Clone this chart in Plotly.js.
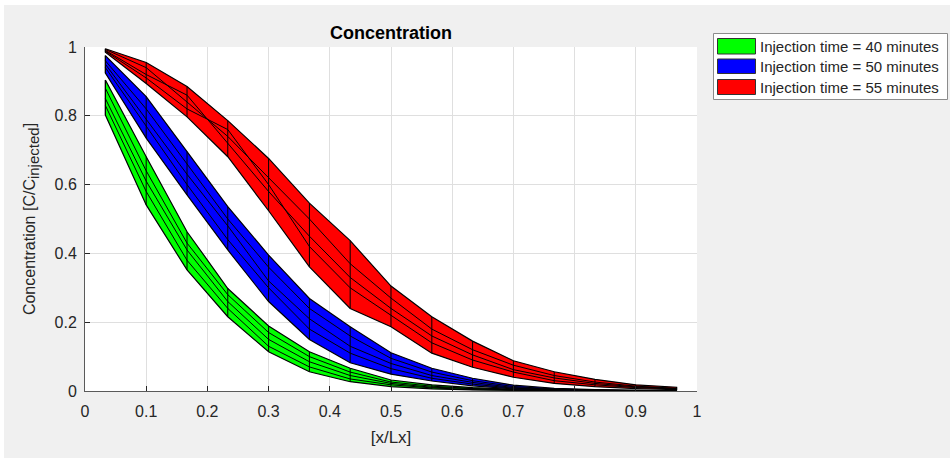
<!DOCTYPE html>
<html>
<head>
<meta charset="utf-8">
<script src="https://cdn.plot.ly/plotly-3.0.1.min.js"></script>
<style>
  html, body { margin: 0; padding: 0; background: #ffffff; }
  #chart { width: 950px; height: 458px; }
</style>
</head>
<body>
<div id="chart"></div>
<script>
// ---- data ----
const xPos = [0.0333, 0.1, 0.1667, 0.2333, 0.3, 0.3667, 0.4333, 0.5, 0.5667, 0.6333, 0.7, 0.7667, 0.8333, 0.9, 0.9667];

const seriesNames = ["Injection time = 40 minutes", "Injection time = 50 minutes", "Injection time = 55 minutes"];
const seriesColors = ["#00ff00", "#0000ff", "#ff0000"];

// 40 minutes (green): upper envelope, inner curves, lower envelope
const green40Upper = [0.904, 0.681, 0.463, 0.298, 0.189, 0.114, 0.066, 0.032, 0.018, 0.010, 0.005, 0.002, 0.001, 0.0005, 0.0002];
const green40InnerA = [0.88, 0.64, 0.43, 0.28, 0.17, 0.100, 0.055, 0.026, 0.014, 0.007, 0.003, 0.0015, 0.0007, 0.0003, 0.0001];
const green40InnerB = [0.85, 0.61, 0.41, 0.26, 0.15, 0.085, 0.045, 0.022, 0.011, 0.006, 0.003, 0.001, 0.0005, 0.0002, 0.0001];
const green40InnerC = [0.83, 0.58, 0.38, 0.24, 0.13, 0.070, 0.035, 0.018, 0.009, 0.004, 0.002, 0.001, 0.0004, 0.0002, 0.0001];
const green40Lower = [0.802, 0.541, 0.352, 0.216, 0.114, 0.056, 0.027, 0.013, 0.006, 0.003, 0.001, 0.0005, 0.0002, 0.0001, 0.0];

// 50 minutes (blue)
const blue50Upper = [0.975, 0.856, 0.696, 0.536, 0.395, 0.269, 0.187, 0.111, 0.066, 0.037, 0.017, 0.008, 0.004, 0.002, 0.001];
const blue50InnerA = [0.96, 0.82, 0.66, 0.50, 0.36, 0.24, 0.16, 0.095, 0.055, 0.030, 0.013, 0.006, 0.003, 0.0015, 0.0007];
const blue50InnerB = [0.95, 0.79, 0.63, 0.48, 0.32, 0.21, 0.13, 0.080, 0.045, 0.025, 0.010, 0.005, 0.002, 0.001, 0.0005];
const blue50InnerC = [0.94, 0.77, 0.60, 0.44, 0.30, 0.18, 0.11, 0.065, 0.037, 0.020, 0.008, 0.004, 0.0015, 0.0008, 0.0003];
const blue50Lower = [0.924, 0.735, 0.570, 0.410, 0.260, 0.150, 0.082, 0.049, 0.029, 0.015, 0.006, 0.003, 0.001, 0.0005, 0.0002];

// 55 minutes (red)
const red55Upper = [0.995, 0.955, 0.885, 0.786, 0.676, 0.546, 0.437, 0.305, 0.216, 0.145, 0.088, 0.056, 0.034, 0.018, 0.011];
const red55InnerA = [0.993, 0.940, 0.840, 0.740, 0.620, 0.500, 0.370, 0.270, 0.180, 0.120, 0.075, 0.045, 0.026, 0.014, 0.008];
const red55InnerB = [0.990, 0.920, 0.860, 0.720, 0.580, 0.450, 0.330, 0.240, 0.160, 0.105, 0.062, 0.038, 0.022, 0.012, 0.007];
const red55InnerC = [0.988, 0.910, 0.820, 0.760, 0.600, 0.420, 0.300, 0.220, 0.140, 0.090, 0.055, 0.030, 0.018, 0.010, 0.006];
const red55Lower = [0.985, 0.894, 0.797, 0.681, 0.524, 0.361, 0.240, 0.187, 0.110, 0.069, 0.040, 0.022, 0.0125, 0.007, 0.004];

const xTickVals = [0, 0.1, 0.2, 0.3, 0.4, 0.5, 0.6, 0.7, 0.8, 0.9, 1];
const xTickText = ["0", "0.1", "0.2", "0.3", "0.4", "0.5", "0.6", "0.7", "0.8", "0.9", "1"];
const yTickVals = [0, 0.2, 0.4, 0.6, 0.8, 1];
const yTickText = ["0", "0.2", "0.4", "0.6", "0.8", "1"];

// ---- build traces ----
const bands = [
  {upper: green40Upper, inner: [green40InnerA, green40InnerB, green40InnerC], lower: green40Lower},
  {upper: blue50Upper, inner: [blue50InnerA, blue50InnerB, blue50InnerC], lower: blue50Lower},
  {upper: red55Upper, inner: [red55InnerA, red55InnerB, red55InnerC], lower: red55Lower}
];

const traces = [];
bands.forEach((b, i) => {
  const polyX = xPos.concat(xPos.slice().reverse());
  const polyY = b.upper.concat(b.lower.slice().reverse());
  traces.push({
    type: "scatter", mode: "lines", x: polyX.concat([xPos[0]]), y: polyY.concat([b.upper[0]]),
    fill: "toself", fillcolor: seriesColors[i],
    line: {color: "#000000", width: 1.2}, name: seriesNames[i], showlegend: false, hoverinfo: "skip"
  });
  b.inner.forEach(arr => {
    traces.push({
      type: "scatter", mode: "lines", x: xPos, y: arr,
      line: {color: "#000000", width: 1}, showlegend: false, hoverinfo: "skip"
    });
  });
  const vx = [], vy = [];
  xPos.forEach((xv, k) => { vx.push(xv, xv, null); vy.push(b.lower[k], b.upper[k], null); });
  traces.push({
    type: "scatter", mode: "lines", x: vx, y: vy,
    line: {color: "#000000", width: 1}, showlegend: false, hoverinfo: "skip"
  });
});

// ---- pixel helpers for paper coords (plot area 85..697 x 47..391) ----
const PL = 85, PR = 697, PT = 47, PB = 391;
const px2x = p => (p - PL) / (PR - PL);
const py2y = p => (PB - p) / (PB - PT);

const FONT = "Liberation Sans, Arial, Helvetica, sans-serif";

const shapes = [
  // white strips on the figure edge
  {type: "rect", xref: "paper", yref: "paper", x0: px2x(0), x1: px2x(4), y0: py2y(458), y1: py2y(0), fillcolor: "#ffffff", line: {width: 0}, layer: "above"},
  {type: "rect", xref: "paper", yref: "paper", x0: px2x(0), x1: px2x(950), y0: py2y(5), y1: py2y(0), fillcolor: "#ffffff", line: {width: 0}, layer: "above"},
  // legend box
  {type: "rect", xref: "paper", yref: "paper", x0: px2x(713.5), x1: px2x(947.5), y0: py2y(99.5), y1: py2y(33.5), fillcolor: "#ffffff", line: {color: "#8c8c8c", width: 1}, layer: "above"}
];
const swatchRows = [[38.5, 54], [59, 73.5], [79.5, 94.5]];
const annotations = [];
seriesNames.forEach((nm, i) => {
  const r = swatchRows[i];
  shapes.push({type: "rect", xref: "paper", yref: "paper", x0: px2x(717.5), x1: px2x(755.5), y0: py2y(r[1]), y1: py2y(r[0]),
    fillcolor: seriesColors[i], line: {color: "#333333", width: 1}, layer: "above"});
  annotations.push({xref: "paper", yref: "paper", x: px2x(758), y: py2y((r[0] + r[1]) / 2), xanchor: "left", yanchor: "middle",
    text: nm, showarrow: false, font: {family: FONT, size: 15, color: "#262626"}});
});

const layout = {
  width: 950, height: 458,
  paper_bgcolor: "#f0f0f0", plot_bgcolor: "#ffffff",
  margin: {l: PL, r: 950 - PR, t: PT, b: 458 - PB, pad: 0},
  font: {family: FONT, size: 16, color: "#262626"},
  title: {text: "<b>Concentration</b>", x: px2x(391), xref: "paper", xanchor: "center", y: 1 - 33 / 458, yanchor: "middle",
          font: {family: FONT, size: 18, color: "#000000"}},
  showlegend: false,
  xaxis: {
    range: [0, 1], tickvals: xTickVals, ticktext: xTickText, ticks: "inside", ticklen: 5, tickcolor: "#262626",
    showline: true, linecolor: "#5a5a5a", linewidth: 1, mirror: false, zeroline: false,
    showgrid: true, gridcolor: "#dfdfdf", gridwidth: 1,
    tickfont: {family: FONT, size: 16, color: "#262626"}, ticklabelstandoff: 6,
    title: {text: "[x/Lx]", font: {family: FONT, size: 17, color: "#262626"}, standoff: 11}
  },
  yaxis: {
    range: [0, 1], tickvals: yTickVals, ticktext: yTickText, ticks: "inside", ticklen: 5, tickcolor: "#262626",
    showline: true, linecolor: "#5a5a5a", linewidth: 1, mirror: false, zeroline: false,
    showgrid: true, gridcolor: "#dfdfdf", gridwidth: 1,
    tickfont: {family: FONT, size: 16, color: "#262626"}, ticklabelstandoff: 4,
    title: {text: "Concentration [C/C<sub><span style=\"font-size:15px\">injected</span></sub>]", font: {family: FONT, size: 16, color: "#262626"}, standoff: 14}
  },
  shapes: shapes,
  annotations: annotations
};

Plotly.newPlot("chart", traces, layout, {staticPlot: true, displayModeBar: false});
</script>
</body>
</html>
